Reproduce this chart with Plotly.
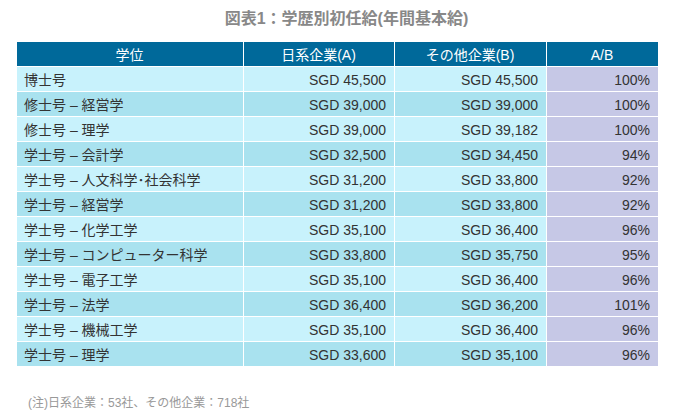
import plotly.graph_objects as go

# data
degrees = ["博士号", "修士号 – 経営学", "修士号 – 理学", "学士号 – 会計学", "学士号 – 人文科学･社会科学",
           "学士号 – 経営学", "学士号 – 化学工学", "学士号 – コンピューター科学", "学士号 – 電子工学",
           "学士号 – 法学", "学士号 – 機械工学", "学士号 – 理学"]
japan = [45500, 39000, 39000, 32500, 31200, 31200, 35100, 33800, 35100, 36400, 35100, 33600]
other = [45500, 39000, 39182, 34450, 33800, 33800, 36400, 35750, 36400, 36200, 36400, 35100]
ratio = [100, 100, 100, 94, 92, 92, 96, 95, 96, 101, 96, 96]
headers = ["学位", "日系企業(A)", "その他企業(B)", "A/B"]

light, dark, lav = "#c8f2fc", "#a9e2ef", "#c6c8e6"
row_cols = [light if i % 2 == 0 else dark for i in range(len(degrees))]
font = "Liberation Sans, Noto Sans CJK JP"

fig = go.Figure(go.Table(
    columnwidth=[227, 151, 152, 112],
    header=dict(values=headers, fill_color="#00699a", line_color="white", line_width=1,
                font=dict(color="white", size=14, family=font), align="center", height=25),
    cells=dict(values=[degrees, ["SGD {:,}".format(v) for v in japan],
                       ["SGD {:,}".format(v) for v in other], ["{}%".format(v) for v in ratio]],
               fill_color=[row_cols, row_cols, row_cols, [lav] * len(degrees)],
               line_color="white", line_width=1,
               font=dict(color="#333333", size=14, family=font),
               align=["left", "right", "right", "right"], height=25),
    domain=dict(x=[8 / 677, 650 / 677], y=[0.0, 1 - 33 / 410]),
))
fig.update_layout(
    width=677, height=410, margin=dict(l=0, r=0, t=0, b=0),
    paper_bgcolor="white",
    title=dict(text="<b>図表1：学歴別初任給(年間基本給)</b>", x=0.5, y=1 - 10 / 410, xanchor="center",
               yanchor="middle", font=dict(size=16, color="#888888", family=font)),
)
fig.add_annotation(text="(注)日系企業：53社、その他企業：718社", x=18 / 677, y=1 - 394 / 410,
                   xref="paper", yref="paper", xanchor="left", yanchor="middle", showarrow=False,
                   font=dict(size=12, color="#999999", family=font))
fig.write_html("out.html")
